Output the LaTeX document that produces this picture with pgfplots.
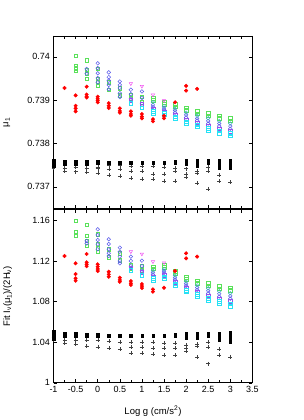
\documentclass[border=0pt]{standalone}
\usepackage{pgfplots}
\pgfplotsset{compat=1.18}
\usepackage{fontspec}
\setmainfont{Liberation Sans}
\definecolor{cred}{RGB}{255,0,0}
\definecolor{cgreen}{RGB}{90,225,90}
\definecolor{cblue}{RGB}{90,90,235}
\definecolor{cmag}{RGB}{240,80,240}
\definecolor{cpurp}{RGB}{150,80,235}
\definecolor{cteal}{RGB}{60,175,190}
\definecolor{ccyan}{RGB}{40,225,245}
\pgfplotsset{
  common/.style={
    scale only axis, width=199pt, height=173pt,
    xmin=-1, xmax=3.5,
    xtick={-1,-0.5,...,3.5}, minor x tick num=1,
    tick align=inside, major tick length=3.5pt, minor tick length=3pt,
    every tick/.style={black, line width=0.5pt},
    axis line style={line width=0.8pt},
    tick label style={font=\fontsize{9}{10}\selectfont},
    label style={font=\fontsize{9.5}{10}\selectfont},
    /pgf/number format/assume math mode=true,
    /pgf/number format/fixed,
    scaled ticks=false,
    anchor=south west,
  },
  redm/.style={only marks, mark=*, mark size=1.8pt, draw=cred, fill=cred},
  grnm/.style={only marks, mark=square, mark size=1.8pt, draw=cgreen, mark options={line width=0.5pt}},
  blum/.style={only marks, mark=o, mark size=1.8pt, draw=cblue, mark options={line width=0.5pt}},
  magm/.style={only marks, mark=triangle, mark size=1.9pt, draw=cmag, fill=cmag!40, mark options={rotate=180, line width=0.5pt}},
  purm/.style={only marks, mark=square, mark size=1.8pt, draw=cpurp, mark options={line width=0.5pt}},
  tealm/.style={only marks, mark=o, mark size=1.8pt, draw=cteal, mark options={line width=0.5pt}},
  cyam/.style={only marks, mark=square, mark size=1.8pt, draw=ccyan, mark options={line width=0.5pt}},
  blkm/.style={only marks, mark=square*, mark size=1.2pt, draw=black, fill=black},
  plsm/.style={only marks, mark=+, mark size=2pt, draw=black!75, mark options={line width=0.4pt}},
}
\begin{document}
\begin{tikzpicture}[x=1pt,y=1pt]
\path (0,0) rectangle (300,420);
% ---------------- top panel ----------------
\begin{axis}[common, at={(50pt,211pt)},
  ymin=0.73649, ymax=0.74048,
  ytick={0.737,0.738,0.739,0.74},
  /pgf/number format/precision=3,
  xticklabels={},
  ylabel={μ\textsubscript{1}}, ylabel style={at={(axis description cs:-0.2,0.5)}},
]
\addplot[plsm] coordinates {
(-1,0.73743)(-1,0.73748)(-0.75,0.73743)(-0.75,0.73737)(-0.5,0.73745)(-0.5,0.73735)
(-0.25,0.73743)(-0.25,0.73733)(0,0.73746)(0,0.73742)(0,0.73731)
(0.25,0.7375)(0.25,0.73741)(0.25,0.73727)(0.5,0.7375)(0.5,0.73741)(0.5,0.73725)
(0.75,0.73748)(0.75,0.73737)(0.75,0.7372)(1,0.73747)(1,0.73736)(1,0.73718)
(1.25,0.73747)(1.25,0.7373)(1.25,0.73718)(1.5,0.73745)(1.5,0.7373)(1.5,0.73714)
(1.75,0.73744)(1.75,0.73737)(1.75,0.73714)(2,0.73742)(2,0.7373)(2,0.73722)
(2.25,0.73737)(2.25,0.73732)(2.25,0.73709)(2.5,0.73746)(2.5,0.73737)(2.5,0.73695)
(2.75,0.73727)(2.75,0.73713)(3,0.7371)};
\addplot[blkm] coordinates {
(-1,0.73762)(-1,0.73757)(-1,0.73752)(-1,0.73747)
(-0.75,0.73759)(-0.75,0.73753)(-0.5,0.73759)(-0.5,0.73753)
(-0.25,0.73759)(-0.25,0.73753)(0,0.73758)(0,0.73754)
(0.25,0.73756)(0.5,0.73756)(0.75,0.73756)(1,0.73756)(1.25,0.73756)
(1.5,0.73756)(1.75,0.73759)(1.75,0.73754)
(2,0.7376)(2,0.73753)(2.25,0.73761)(2.25,0.73755)(2.25,0.73749)
(2.5,0.7376)(2.5,0.73754)
(2.75,0.73761)(2.75,0.73755)(2.75,0.73749)(2.75,0.73744)
(3,0.73762)(3,0.73756)(3,0.7375)(3,0.73744)};
\addplot[grnm] coordinates {
(-0.5,0.74002)(-0.5,0.73979)(-0.5,0.73974)(-0.5,0.73968)
(-0.25,0.73992)(-0.25,0.7397)(-0.25,0.73961)(-0.25,0.73949)
(0,0.73972)(0,0.73949)(0,0.73941)(0,0.73935)
(0.25,0.73941)(0.25,0.73924)(0.5,0.73928)(0.5,0.73911)
(0.75,0.73912)(0.75,0.73905)(1,0.73908)(1,0.73895)
(1.25,0.73905)(1.25,0.739)(1.5,0.73895)(1.5,0.73891)(1.75,0.7389)(1.75,0.73885)
(2,0.73882)(2,0.73877)(2.25,0.73874)(2.25,0.73869)(2.5,0.7387)(2.5,0.73864)
(2.75,0.73864)(2.75,0.73858)(3,0.73858)(3,0.73852)};
\addplot[blum] coordinates {
(-0.25,0.73972)(-0.25,0.73961)
(0,0.73985)(0,0.73974)(0,0.73962)(0,0.73951)(0,0.73941)
(0.25,0.73964)(0.25,0.73953)(0.25,0.73945)(0.25,0.73935)(0.25,0.73925)
(0.5,0.73943)(0.5,0.73935)(0.5,0.73928)(0.5,0.73916)(0.5,0.73907)
(0.75,0.73924)(0.75,0.73914)(0.75,0.73903)(1,0.7392)(1,0.73905)(1,0.73892)
(1.25,0.73889)(1.25,0.73884)(1.5,0.73882)(1.5,0.73878)(1.75,0.73876)(1.75,0.73871)
(2,0.73866)(2,0.7386)(2.25,0.73858)(2.25,0.73853)(2.5,0.73852)(2.5,0.73846)
(2.75,0.73846)(2.75,0.7384)(3,0.7384)(3,0.73834)};
\addplot[tealm] coordinates {
(1.25,0.73895)(1.5,0.73886)(1.75,0.7388)(2,0.73871)(2.25,0.73864)(2.5,0.73858)(2.75,0.73852)(3,0.73846)};
\addplot[purm] coordinates {
(0.75,0.739)(1,0.7389)(1.25,0.73879)(1.5,0.73873)(1.75,0.73866)(2,0.73855)(2.25,0.73848)(2.5,0.7384)(2.75,0.73834)(3,0.73828)};
\addplot[cyam] coordinates {
(0.75,0.73893)(1,0.73882)(1.25,0.73874)(1.25,0.7387)(1.5,0.7387)(1.5,0.73866)(1.75,0.73862)(1.75,0.73858)
(2,0.7385)(2,0.73846)(2.25,0.73843)(2.25,0.73839)(2.5,0.73835)(2.5,0.7383)
(2.75,0.73829)(2.75,0.73824)(3,0.73823)(3,0.73818)};
\addplot[magm] coordinates {
(0.75,0.73938)(1,0.73932)(1.25,0.73912)(1.5,0.73899)};
\addplot[redm] coordinates {
(-0.75,0.73928)
(-0.5,0.73911)(-0.5,0.73887)(-0.5,0.73881)(-0.5,0.73874)
(-0.25,0.73931)(-0.25,0.73913)(-0.25,0.73908)(-0.25,0.73906)
(0,0.73908)(0,0.73903)(0,0.73899)(0,0.73895)
(0.25,0.73893)(0.25,0.73887)(0.25,0.73882)
(0.5,0.73881)(0.5,0.73875)(0.5,0.73871)
(0.75,0.73874)(0.75,0.73868)(0.75,0.73864)
(1,0.73868)(1,0.73862)(1,0.73858)
(1.25,0.73856)(1.25,0.73851)
(1.5,0.73864)(1.5,0.73858)
(1.75,0.73895)
(2,0.73933)(2,0.73922)
(2.25,0.73926)};
\end{axis}
% ---------------- bottom panel ----------------
\begin{axis}[common, at={(50pt,37pt)},
  ymin=1, ymax=1.1706,
  ytick={1,1.04,1.08,1.12,1.16},
  /pgf/number format/precision=2,
  xlabel={Log g (cm/s\textsuperscript{2})},
  ylabel={Fit I\textsubscript{ν}(μ\textsubscript{1})/(2H\textsubscript{ν})},
  ylabel style={at={(axis description cs:-0.19,0.5)}},
  xlabel style={at={(axis description cs:0.5,-0.115)}},
]
\addplot[plsm] coordinates {
(-1,1.0422)(-1,1.045)(-0.75,1.0421)(-0.75,1.0389)(-0.5,1.0421)(-0.5,1.0379)
(-0.25,1.0421)(-0.25,1.0366)(0,1.0421)(0,1.0356)(0.25,1.0415)(0.25,1.034)
(0.5,1.0405)(0.5,1.033)(0.75,1.0405)(0.75,1.0356)(0.75,1.0296)
(1,1.0405)(1,1.035)(1,1.029)(1.25,1.0405)(1.25,1.034)(1.25,1.0283)
(1.5,1.0395)(1.5,1.034)(1.5,1.0273)(1.75,1.0395)(1.75,1.034)(1.75,1.0273)
(2,1.0372)(2,1.0316)(2,1.034)(2.25,1.0363)(2.25,1.038)(2.25,1.025)
(2.5,1.0405)(2.5,1.0356)(2.5,1.019)(2.75,1.033)(2.75,1.0273)(3,1.0256)};
\addplot[blkm] coordinates {
(-1,1.0503)(-1,1.0487)(-1,1.047)(-1,1.045)(-1,1.043)
(-0.75,1.0484)(-0.75,1.0464)(-0.5,1.0484)(-0.5,1.0464)
(-0.25,1.0482)(-0.25,1.0464)(0,1.048)(0,1.0464)
(0.25,1.0464)(0.5,1.0464)(0.75,1.0464)(1,1.0464)(1.25,1.0464)(1.5,1.0464)
(1.75,1.0482)(1.75,1.0464)
(2,1.0487)(2,1.0464)(2,1.0442)(2.25,1.0487)(2.25,1.0464)(2.25,1.044)
(2.5,1.0487)(2.5,1.0464)
(2.75,1.0492)(2.75,1.047)(2.75,1.0448)(2.75,1.0425)
(3,1.0498)(3,1.0475)(3,1.0452)(3,1.043)(3,1.0405)};
\addplot[grnm] coordinates {
(-0.5,1.1597)(-0.5,1.1491)(-0.5,1.1449)
(-0.25,1.1558)(-0.25,1.1449)(-0.25,1.1403)(-0.25,1.1353)
(0,1.1466)(0,1.1367)(0,1.1327)(0,1.1294)
(0.25,1.132)(0.25,1.1238)(0.5,1.1278)(0.5,1.1212)
(0.75,1.1162)(0.75,1.1125)(1,1.1155)(1,1.111)
(1.25,1.1146)(1.25,1.1126)(1.5,1.116)(1.5,1.1141)(1.75,1.11)(1.75,1.1079)
(2,1.1041)(2,1.102)(2.25,1.1007)(2.25,1.0985)(2.5,1.0982)(2.5,1.0957)
(2.75,1.0955)(2.75,1.0929)(3,1.0938)(3,1.0911)};
\addplot[blum] coordinates {
(-0.25,1.14)(-0.25,1.1375)
(0,1.1515)(0,1.1459)(0,1.1409)(0,1.1367)(0,1.1318)
(0.25,1.1416)(0.25,1.137)(0.25,1.1318)(0.25,1.1278)(0.25,1.1251)
(0.5,1.1334)(0.5,1.1294)(0.5,1.1245)(0.5,1.1202)(0.5,1.1179)
(0.75,1.1245)(0.75,1.1202)(0.75,1.1152)(1,1.1205)(1,1.1152)(1,1.1106)
(1.25,1.1087)(1.25,1.1067)(1.5,1.1102)(1.5,1.1083)(1.75,1.1037)(1.75,1.1016)
(2,1.0977)(2,1.0956)(2.25,1.094)(2.25,1.0917)(2.5,1.0908)(2.5,1.0883)
(2.75,1.0878)(2.75,1.0852)(3,1.0857)(3,1.083)};
\addplot[tealm] coordinates {
(1.25,1.1106)(1.5,1.1121)(1.75,1.1058)(2,1.0998)(2.25,1.0962)(2.5,1.0932)(2.75,1.0904)(3,1.0884)};
\addplot[purm] coordinates {
(0.75,1.1135)(1,1.109)(1.25,1.1047)(1.5,1.1063)(1.75,1.0995)(2,1.0935)(2.25,1.0895)(2.5,1.0858)(2.75,1.0827)(3,1.0802)};
\addplot[cyam] coordinates {
(0.75,1.1113)(1,1.1064)(1.25,1.103)(1.25,1.1014)(1.5,1.1046)(1.5,1.1031)(1.75,1.0977)(1.75,1.096)
(2,1.0916)(2,1.0899)(2.25,1.0875)(2.25,1.0857)(2.5,1.0837)(2.5,1.0817)
(2.75,1.0804)(2.75,1.0784)(3,1.0779)(3,1.0757)};
\addplot[magm] coordinates {
(0.75,1.1294)(1,1.1271)(1.25,1.1195)(1.5,1.1185)};
\addplot[redm] coordinates {
(-0.75,1.1251)
(-0.5,1.1179)(-0.5,1.1073)(-0.5,1.1031)(-0.5,1.1007)
(-0.25,1.1271)(-0.25,1.1189)(-0.25,1.1169)(-0.25,1.115)
(0,1.1169)(0,1.1146)(0,1.1123)(0,1.1103)
(0.25,1.1096)(0.25,1.107)(0.25,1.1047)
(0.5,1.1037)(0.5,1.1015)(0.5,1.0997)
(0.75,1.1004)(0.75,1.0982)(0.75,1.0965)
(1,1.0975)(1,1.0955)(1,1.0935)
(1.25,1.0922)(1.25,1.0899)
(1.5,1.0938)
(1.75,1.1103)
(2,1.1278)(2,1.1228)
(2.25,1.1245)};
\end{axis}
\end{tikzpicture}
\end{document}
